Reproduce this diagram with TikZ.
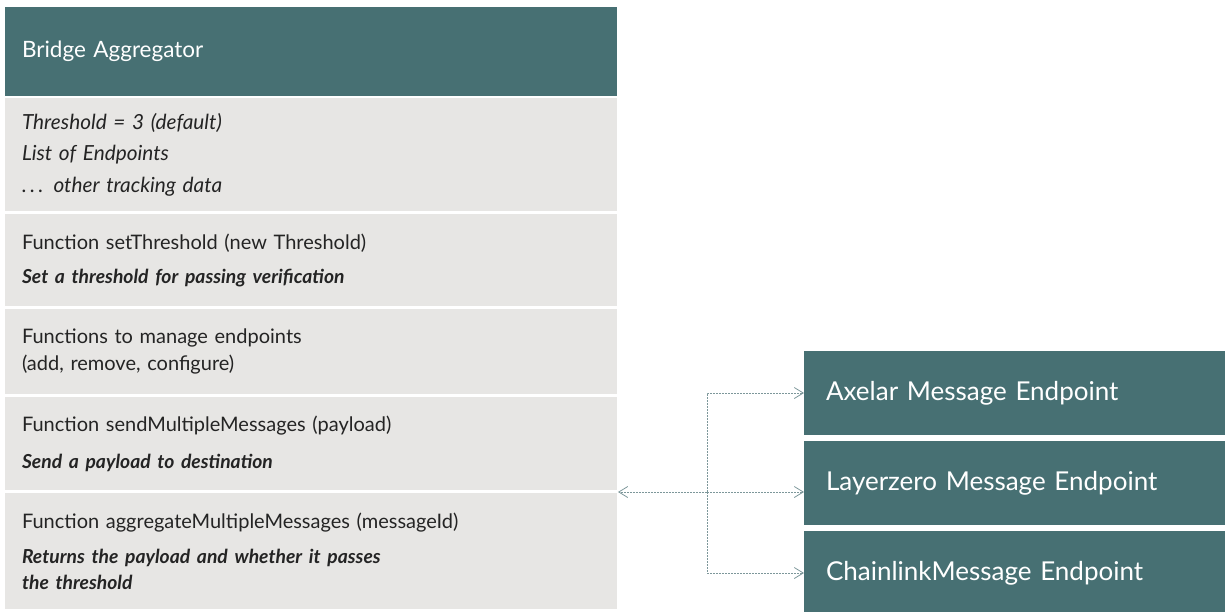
\documentclass[tikz,border=0pt]{standalone}
\usepackage{fontspec}
\setmainfont{Lato}
\usetikzlibrary{positioning, arrows.meta}
\definecolor{deepteal}{HTML}{477073}
\definecolor{panel}{HTML}{E7E6E4}
\definecolor{ink}{HTML}{242424}
\definecolor{wire}{HTML}{7D979A}
\newcommand{\noteline}[1]{{\fontsize{19.3}{27}\selectfont\bfseries\itshape #1}}
\tikzset{
  x=1pt, y=-1pt,
  node distance=3pt,
  every node/.style={outer sep=0pt},
  titlebox/.style={fill=deepteal, text=white, minimum height=89pt,
    inner xsep=17pt, inner ysep=0pt, text width=578pt, align=left,
    font=\fontsize{22.5}{26}\selectfont},
  rowbox/.style={fill=panel, text=ink, inner xsep=17pt, inner ysep=0pt,
    text width=578pt, align=left, font=\fontsize{20}{27}\selectfont},
  endbox/.style={fill=deepteal, text=white, minimum height=84pt,
    inner xsep=22pt, inner ysep=0pt, text width=382pt, align=left,
    font=\fontsize{26}{30}\selectfont},
  link/.style={draw=wire, line width=0.8pt, dash pattern=on 1.6pt off 1.4pt},
  arrowend/.style={-{Straight Barb[length=9pt,width=11pt]}},
}

\begin{document}
\begin{tikzpicture}
        \useasboundingbox (0,0) rectangle (1225,611);
        \clip (0,0) rectangle (1225,611);

        % aggregator
        \node[titlebox, anchor=north west] (agg) at (5,7) {Bridge Aggregator};
        \node[rowbox, below=2pt of agg, minimum height=113pt] (thr)
          {\fontsize{20.8}{27}\selectfont\itshape Threshold = 3 (default)\\[4.5pt] List of Endpoints\\[4.5pt] .\,.\,. other tracking data};
        \node[rowbox, below=of thr, minimum height=92pt] (setthr)
          {Function setThreshold (new Threshold)\\[7pt] \noteline{Set a threshold for passing verification}};
        \node[rowbox, below=of setthr, minimum height=85pt] (manage)
          {Functions to manage endpoints\\ (add, remove, configure)};
        \node[rowbox, below=of manage, minimum height=93pt] (send)
          {Function sendMultipleMessages (payload)\\[10pt] \noteline{Send a payload to destination}};
        \node[rowbox, below=of send, minimum height=116pt] (aggr)
          {Function aggregateMultipleMessages (messageId)\\[8pt] \noteline{Returns the payload and whether it passes}\\[-1pt] \noteline{the threshold}};

        % endpoints
        \node[endbox, anchor=north west] (axelar) at (804,351) {Axelar Message Endpoint};
        \node[endbox, below=6pt of axelar] (layer) {Layerzero Message Endpoint};
        \node[endbox, below=6pt of layer] (chain) {ChainlinkMessage Endpoint};

        % links
        \coordinate (hub) at (707,492);
        \coordinate (gapend) at (618,492);
        \draw[link, arrowend] (hub) -- (gapend);
        \draw[link, arrowend] (hub) |- (axelar.west);
        \draw[link, arrowend] (hub) -- (hub -| layer.west);
        \draw[link, arrowend] (hub) |- (chain.west);
\end{tikzpicture}
\end{document}
